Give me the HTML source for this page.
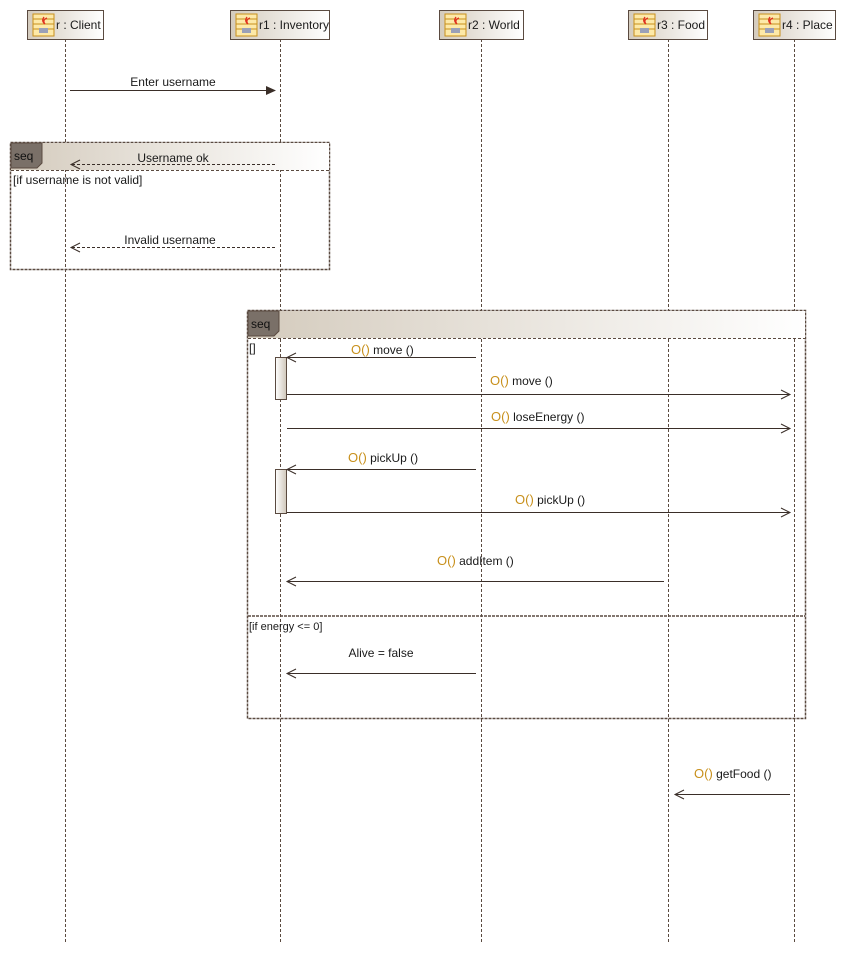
<!DOCTYPE html>
<html><head><meta charset="utf-8"><style>
html,body{margin:0;padding:0;background:#fff;}
svg{display:block;font-family:"Liberation Sans",sans-serif;font-size:12px;}
</style></head><body>
<svg width="846" height="954" viewBox="0 0 846 954" xmlns="http://www.w3.org/2000/svg">
<defs>
<linearGradient id="hg" x1="0" x2="1" y1="0" y2="0"><stop offset="0" stop-color="#d4cbbd"/><stop offset="1" stop-color="#ffffff"/></linearGradient>
<linearGradient id="ag" x1="0" x2="1"><stop offset="0" stop-color="#fff"/><stop offset="1" stop-color="#cfc7ba"/></linearGradient>
<g id="ic"><rect x="0" y="0" width="21" height="22" fill="#fde9a8" stroke="#c8901c"/><line x1="0" y1="5" x2="21" y2="5" stroke="#c8901c"/><line x1="0" y1="10" x2="21" y2="10" stroke="#c8901c"/><line x1="0" y1="15" x2="21" y2="15" stroke="#c8901c"/><path d="M11 3 q-3 4 1 7 q-3 -4 2 -6" stroke="#e03020" fill="none" stroke-width="1.3"/><rect x="6" y="14" width="9" height="5" fill="#9aa0b8"/></g>
</defs>
<g stroke="#5a4a40" stroke-dasharray="3,2" stroke-width="1">
<line x1="65.5" y1="39" x2="65.5" y2="944"/>
<line x1="280.5" y1="39" x2="280.5" y2="944"/>
<line x1="481.5" y1="39" x2="481.5" y2="944"/>
<line x1="668.5" y1="39" x2="668.5" y2="944"/>
<line x1="794.5" y1="39" x2="794.5" y2="944"/>
</g>
<g stroke="#5a4a40" fill="url(#hg)">
<rect x="27.5" y="10.5" width="76" height="29"/>
<rect x="230.5" y="10.5" width="99" height="29"/>
<rect x="439.5" y="10.5" width="84" height="29"/>
<rect x="628.5" y="10.5" width="79" height="29"/>
<rect x="753.5" y="10.5" width="82" height="29"/>
</g>
<use href="#ic" x="33" y="14"/><use href="#ic" x="236" y="14"/><use href="#ic" x="445" y="14"/><use href="#ic" x="634" y="14"/><use href="#ic" x="759" y="14"/>
<g fill="#1a1a1a">
<text x="56" y="29">r : Client</text>
<text x="259" y="29">r1 : Inventory</text>
<text x="468" y="29">r2 : World</text>
<text x="657" y="29">r3 : Food</text>
<text x="782" y="29">r4 : Place</text>
</g>
<line x1="70" y1="90.5" x2="270" y2="90.5" stroke="#3a2e28"/>
<path d="M266 86 L276 90.5 L266 95 Z" fill="#3a2e28"/>
<text x="173" y="86" text-anchor="middle" fill="#1a1a1a">Enter username</text>
<rect x="10.5" y="142.5" width="319" height="127" fill="none" stroke="#5a4a40" stroke-dasharray="3,1" stroke-width="1.5"/>
<rect x="11" y="143" width="318" height="27" fill="url(#hg)"/>
<path d="M11 143 H42 V163 L37 168 H11 Z" fill="#7a7068" stroke="#5a4a40"/>
<text x="14" y="160" fill="#111">seq</text>
<line x1="11" y1="170.5" x2="329" y2="170.5" stroke="#5a4a40" stroke-dasharray="3,2"/>
<text x="13" y="184" fill="#1a1a1a">[if username is not valid]</text>
<line x1="72" y1="164.5" x2="275" y2="164.5" stroke="#3a2e28" stroke-dasharray="3,2"/>
<path d="M80 160 L71 164.5 L80 169" fill="none" stroke="#3a2e28"/>
<text x="173" y="162" text-anchor="middle" fill="#1a1a1a">Username ok</text>
<line x1="72" y1="247.5" x2="275" y2="247.5" stroke="#3a2e28" stroke-dasharray="3,2"/>
<path d="M80 243 L71 247.5 L80 252" fill="none" stroke="#3a2e28"/>
<text x="170" y="244" text-anchor="middle" fill="#1a1a1a">Invalid username</text>
<rect x="247.5" y="310.5" width="558" height="408" fill="none" stroke="#5a4a40" stroke-dasharray="3,1" stroke-width="1.5"/>
<rect x="248" y="311" width="557" height="27" fill="url(#hg)"/>
<path d="M248 311 H279 V331 L274 336 H248 Z" fill="#7a7068" stroke="#5a4a40"/>
<text x="251" y="328" fill="#111">seq</text>
<line x1="248" y1="338.5" x2="805" y2="338.5" stroke="#5a4a40" stroke-dasharray="3,2"/>
<line x1="248" y1="616" x2="805" y2="616" stroke="#5a4a40" stroke-dasharray="3,1" stroke-width="1.5"/>
<text x="249" y="352" fill="#1a1a1a">[]</text>
<text x="249" y="630" fill="#1a1a1a" font-size="11">[if energy &lt;= 0]</text>
<rect x="275.5" y="357.5" width="11" height="42" fill="url(#ag)" stroke="#5a4a40"/>
<rect x="275.5" y="469.5" width="11" height="44" fill="url(#ag)" stroke="#5a4a40"/>
<g stroke="#3a2e28" fill="none">
<line x1="287" y1="357.5" x2="476" y2="357.5"/><path d="M296 353 L287 357.5 L296 362"/>
<line x1="287" y1="394.5" x2="790" y2="394.5"/><path d="M781 390 L790 394.5 L781 399"/>
<line x1="287" y1="428.5" x2="790" y2="428.5"/><path d="M781 424 L790 428.5 L781 433"/>
<line x1="287" y1="469.5" x2="476" y2="469.5"/><path d="M296 465 L287 469.5 L296 474"/>
<line x1="287" y1="512.5" x2="790" y2="512.5"/><path d="M781 508 L790 512.5 L781 517"/>
<line x1="287" y1="581.5" x2="664" y2="581.5"/><path d="M296 577 L287 581.5 L296 586"/>
<line x1="287" y1="673.5" x2="476" y2="673.5"/><path d="M296 669 L287 673.5 L296 678"/>
<line x1="675" y1="794.5" x2="790" y2="794.5"/><path d="M684 790 L675 794.5 L684 799"/>
</g>
<g fill="#1a1a1a">
<text x="351" y="354"><tspan fill="#c8901c" font-size="13">O()</tspan> move ()</text>
<text x="490" y="385"><tspan fill="#c8901c" font-size="13">O()</tspan> move ()</text>
<text x="491" y="421"><tspan fill="#c8901c" font-size="13">O()</tspan> loseEnergy ()</text>
<text x="348" y="462"><tspan fill="#c8901c" font-size="13">O()</tspan> pickUp ()</text>
<text x="515" y="504"><tspan fill="#c8901c" font-size="13">O()</tspan> pickUp ()</text>
<text x="437" y="565"><tspan fill="#c8901c" font-size="13">O()</tspan> addItem ()</text>
<text x="381" y="657" text-anchor="middle">Alive = false</text>
<text x="694" y="778"><tspan fill="#c8901c" font-size="13">O()</tspan> getFood ()</text>
</g>
</svg>
</body></html>
